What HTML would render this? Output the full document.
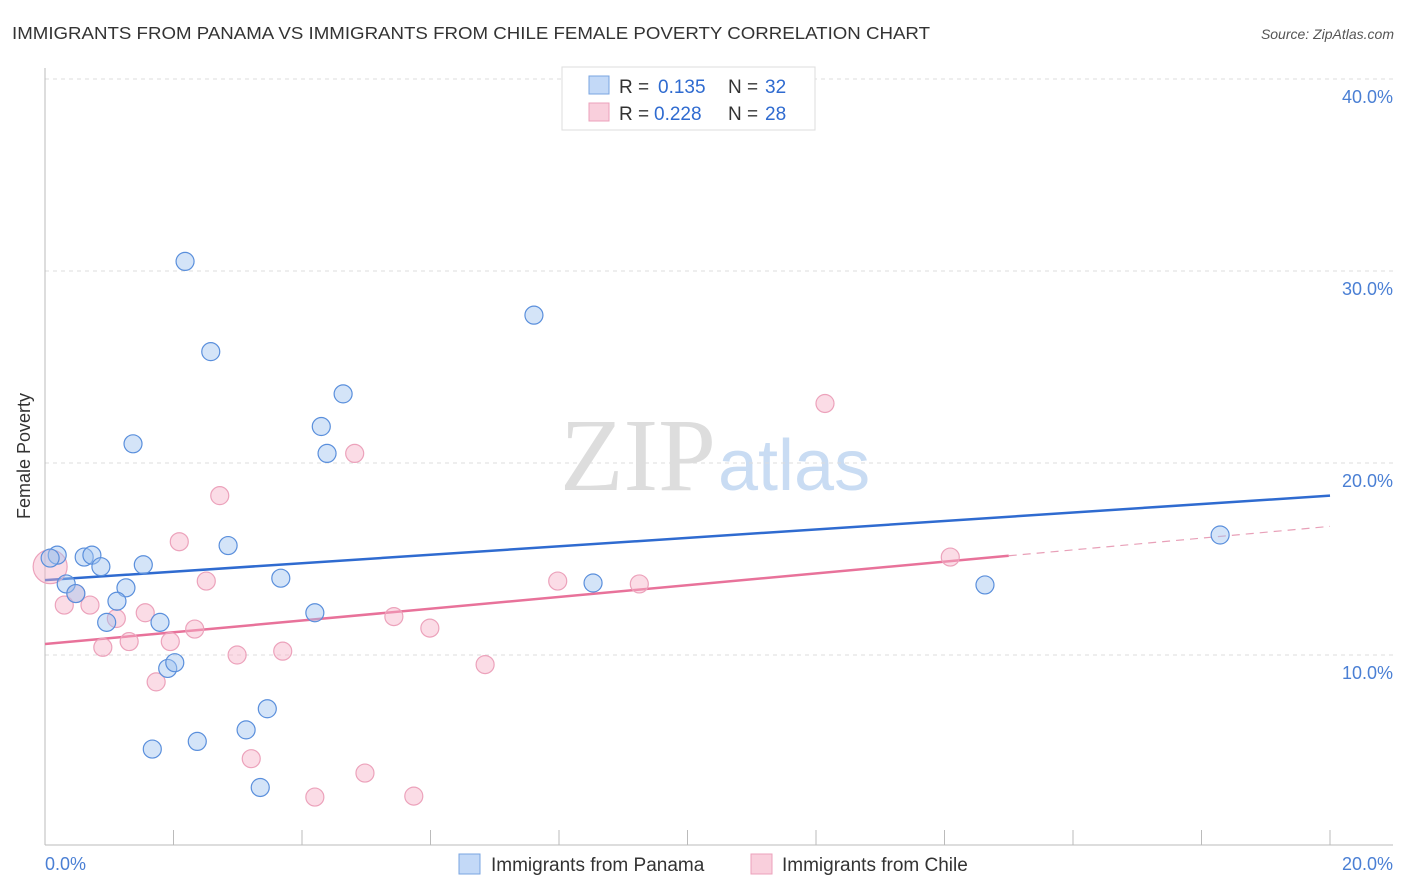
<!DOCTYPE html>
<html><head><meta charset="utf-8"><style>
body{margin:0;background:#fff;font-family:"Liberation Sans",sans-serif}
svg{display:block}
</style></head><body>
<svg id="c" width="1406" height="892" xmlns="http://www.w3.org/2000/svg" font-family="Liberation Sans, sans-serif">
<text x="12" y="39" font-size="17.5" fill="#333" textLength="918" lengthAdjust="spacingAndGlyphs">IMMIGRANTS FROM PANAMA VS IMMIGRANTS FROM CHILE FEMALE POVERTY CORRELATION CHART</text>
<text x="1394" y="39" font-size="14" fill="#555" text-anchor="end" font-style="italic">Source: ZipAtlas.com</text>
<text x="716" y="490" font-size="104" fill="#ddd" text-anchor="end" font-family="Liberation Serif, serif">ZIP</text>
<text x="718" y="490" font-size="72" fill="#c9dcf3">atlas</text>
<g id="grid"></g>
<line x1="45" y1="68" x2="45" y2="845" stroke="#bbb"/>
<line x1="45" y1="845" x2="1393" y2="845" stroke="#bbb"/>
<g id="ticks"></g>
<text x="30" y="456" font-size="18" fill="#333" text-anchor="middle" transform="rotate(-90 30 456)">Female Poverty</text>
<text x="45" y="870" font-size="18" fill="#4a7fd4">0.0%</text>
<text x="1393" y="870" font-size="18" fill="#4a7fd4" text-anchor="end">20.0%</text>
<g id="lines"></g>
<g id="pts"></g>
<g>
<rect x="562" y="67" width="253" height="63" fill="#fff" stroke="#ddd"/>
<rect x="589" y="76" width="20" height="18" fill="#c3d9f7" stroke="#7aa5e0"/>
<rect x="589" y="103" width="20" height="18" fill="#f9cfdc" stroke="#eca2bb"/>
<text x="619" y="93" font-size="19" fill="#333">R =</text>
<text x="658" y="93" font-size="19" fill="#2f6bd0">0.135</text>
<text x="728" y="93" font-size="19" fill="#333">N =</text>
<text x="765" y="93" font-size="19" fill="#2f6bd0">32</text>
<text x="619" y="120" font-size="19" fill="#333">R =</text>
<text x="654" y="120" font-size="19" fill="#2f6bd0">0.228</text>
<text x="728" y="120" font-size="19" fill="#333">N =</text>
<text x="765" y="120" font-size="19" fill="#2f6bd0">28</text>
</g>
<g>
<rect x="459" y="854" width="21" height="20" fill="#c3d9f7" stroke="#7aa5e0"/>
<text x="491" y="871" font-size="19" fill="#333">Immigrants from Panama</text>
<rect x="751" y="854" width="21" height="20" fill="#f9cfdc" stroke="#eca2bb"/>
<text x="782" y="871" font-size="19" fill="#333">Immigrants from Chile</text>
</g>
</svg>
<script>
const yTicks=[10,20,30,40];
const xTicks=[0,2,4,6,8,10,12,14,16,18,20];
const panamaX=[0.19,0.61,0.73,0.33,0.48,0.87,1.26,1.12,0.96,1.53,1.79,1.91,2.02,1.67,2.37,3.13,3.46,3.35,2.85,3.67,4.20,4.30,4.39,4.64,1.37,2.58,2.18,7.61,8.53,14.63,18.29,0.08];
const panamaY=[15.2,15.1,15.2,13.7,13.2,14.6,13.5,12.8,11.7,14.7,11.7,9.3,9.6,5.1,5.5,6.1,7.2,3.1,15.7,14.0,12.2,21.9,20.5,23.6,21.0,25.8,30.5,27.7,13.75,13.65,16.25,15.05];
const chileX=[0.08,0.30,0.70,0.48,0.90,1.11,1.31,1.56,1.73,1.95,2.09,2.33,2.51,2.72,2.99,3.21,3.70,4.20,4.82,4.98,5.43,5.74,5.99,6.85,7.98,9.25,12.14,14.09];
const chileY=[14.6,12.6,12.6,13.2,10.4,11.9,10.7,12.2,8.6,10.7,15.9,11.35,13.85,18.3,10.0,4.6,10.2,2.6,20.5,3.85,12.0,2.65,11.4,9.5,13.85,13.7,23.1,15.1];
const panamaTrend=[13.9,18.3];
const chileTrend=[10.57,16.7];
const chileSolidEnd=15.0;
const sx=v=>45+v*64.25, sy=v=>847-v*19.2;
const NS='http://www.w3.org/2000/svg';
function mk(p,t,a){const e=document.createElementNS(NS,t);for(const k in a)e.setAttribute(k,a[k]);p.appendChild(e);return e;}
const grid=document.getElementById('grid'),ticks=document.getElementById('ticks'),lines=document.getElementById('lines'),pts=document.getElementById('pts');
yTicks.forEach(v=>{
 const l=mk(grid,'line',{x1:45,x2:1393,y1:sy(v),y2:sy(v),stroke:'#ddd','stroke-dasharray':'4,4'});
 
 
 const t=mk(grid,'text',{x:1393,y:sy(v)+24,'font-size':18,fill:'#4a7fd4','text-anchor':'end'});
 t.textContent=v.toFixed(1)+'%';
 
 
});
xTicks.forEach(v=>{if(v===0)return;
 const l=mk(ticks,'line',{x1:sx(v),x2:sx(v),y1:830,y2:845,stroke:'#bbb'});
 
 
});
let a=mk(lines,'line',{x1:sx(0),y1:sy(panamaTrend[0]),x2:sx(20),y2:sy(panamaTrend[1]),stroke:'#2f6bd0','stroke-width':2.5});


const cy=x=>chileTrend[0]+(chileTrend[1]-chileTrend[0])*x/20;
let b=mk(lines,'line',{x1:sx(0),y1:sy(cy(0)),x2:sx(chileSolidEnd),y2:sy(cy(chileSolidEnd)),stroke:'#e8729a','stroke-width':2.5});


let d=mk(lines,'line',{x1:sx(chileSolidEnd),y1:sy(cy(chileSolidEnd)),x2:sx(20),y2:sy(cy(20)),stroke:'#e8a0b8','stroke-width':1.2,'stroke-dasharray':'8,6'});


chileX.forEach((x,i)=>{
 const c=mk(pts,'circle',{cx:sx(x),cy:sy(chileY[i]),r:i===0?17:9,fill:'rgba(246,178,200,0.45)',stroke:'#eca2bb','stroke-width':1.2});
 
 
});
panamaX.forEach((x,i)=>{
 const c=mk(pts,'circle',{cx:sx(x),cy:sy(panamaY[i]),r:9,fill:'rgba(160,195,240,0.45)',stroke:'#5a8fdc','stroke-width':1.2});
 
 
});
</script>
</body></html>
